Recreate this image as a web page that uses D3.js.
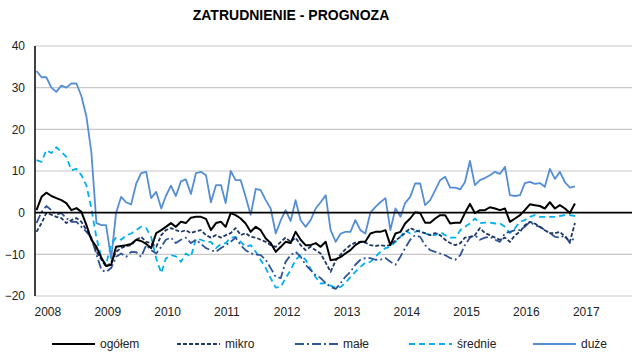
<!DOCTYPE html>
<html>
<head>
<meta charset="utf-8">
<script src="https://cdn.jsdelivr.net/npm/d3@7"></script>
<style>
  html, body { margin: 0; padding: 0; background: #fff; }
  svg { display: block; font-family: "Liberation Sans", Arial, sans-serif; }
</style>
</head>
<body>
<svg id="chart" width="637" height="356"></svg>
<script>
// Monthly survey balance, Jan 2008 – Jan 2017
const startMonth = new Date(2008, 0, 1);
const monthCount = 109;
const yearTicks = [2008, 2009, 2010, 2011, 2012, 2013, 2014, 2015, 2016, 2017];
const yTicks = [-20, -10, 0, 10, 20, 30, 40];

const ogolem = [0.6,3.8,4.8,4,3.5,3,2.3,0.6,1.1,0.2,
  -3,-6.5,-8.2,-10.9,-12.8,-12.5,-8.2,-8,-7.8,-7.5,
  -6.5,-6.8,-7.5,-8.5,-4.9,-4.2,-3.4,-2.5,-3.4,-2.2,
  -2.5,-1.2,-1,-1,-1.5,-4.2,-2.5,-2.2,-3.4,-0.1,
  -0.6,-1.4,-2.6,-4.6,-3.4,-4.2,-6.2,-7.3,-9.4,-8.2,
  -7,-7.3,-4.6,-6.5,-7.8,-7.8,-7.3,-8.2,-7,-11.4,
  -11.2,-10.6,-9.8,-9,-7.8,-7,-7,-5,-4.6,-4.6,
  -4.2,-7.8,-5,-4.6,-2.6,-1.4,0.1,-0.1,-2.4,-2.4,
  -1.4,-0.6,-0.6,-2.6,-2.4,-2.4,-0.1,2.1,-0.1,0.6,
  0.6,1.3,1,0.6,1,-2.2,-1.4,-0.6,0.6,2,
  1.8,1.6,1,2.5,1,1.8,1,-0.1,2.2];

const mikro = [-4.6,-2.5,-0.1,-0.5,-1,-1.3,-2.5,-1.8,-1.3,-2.2,
  -4.2,-6,-9.4,-11.3,-13,-12,-9.4,-8.5,-8,-7.8,
  -6.5,-5.8,-7,-7.3,-8.2,-5.4,-4.2,-3.7,-4.2,-4.6,
  -4.2,-4.9,-4.5,-4.2,-5.4,-6,-5.4,-6,-5.4,-4.9,
  -3.7,-5.4,-4.9,-5.8,-6,-6.5,-7,-7.8,-8.2,-7,
  -6,-7,-6,-7.8,-9,-8.2,-9,-9.8,-12,-14.2,
  -11.5,-10,-8.8,-7.8,-7.2,-7,-7.2,-7.8,-8,-7.8,
  -8,-7.8,-6.7,-5.8,-4.9,-3.7,-4.2,-4.6,-4.9,-5.4,
  -4.9,-5.4,-6.5,-7.3,-7.8,-7.3,-6,-5.8,-5.4,-3.7,
  -4.9,-5.4,-6,-6.5,-6,-7,-5.4,-4.6,-3,-2.2,
  -2.6,-3.4,-4.2,-4.9,-4.9,-4.6,-5.8,-7,-2.5];

const male = [-2.5,0.2,1.6,0.6,-0.5,-0.1,-1.3,-2.2,-2.2,-3.4,
  -4.6,-6,-10,-13.8,-14.2,-13.3,-10.6,-9.8,-10.6,-9.4,
  -9.5,-10.6,-7.8,-9,-9.8,-8.2,-6.5,-6,-7.3,-6.5,
  -6,-7.3,-6.5,-7.5,-8.5,-9,-9.4,-8.5,-7.8,-7,
  -6,-7.8,-9,-9.8,-10,-10.2,-11.3,-13.3,-15.4,-15.7,
  -11.8,-10.2,-9.4,-10.6,-12.5,-13.8,-15,-15.7,-16.9,-17.8,
  -18.3,-16.9,-15.4,-14.2,-12.5,-11.3,-10.9,-10.9,-11.3,-11.3,
  -10.9,-11.8,-12.5,-10.5,-8.5,-6.5,-5.4,-5.8,-7.8,-9,
  -9.4,-9.8,-10.2,-10.9,-11.3,-10.2,-7.8,-6,-5.4,-6.5,
  -6,-5.8,-6.5,-7,-4.9,-4.6,-4.2,-4.2,-3.4,-2.2,
  -3,-3.4,-4.2,-4.9,-5.8,-6,-5.4,-7.3,-5.8];

const srednie = [12.6,12.2,15,14.3,15.7,14.6,13.4,10.2,10.5,9,
  6.5,1,-6,-11,-12.5,-7.5,-6,-6.5,-5.5,-5,
  -4.2,-3.4,-3.7,-5.8,-11,-14.5,-11,-10.2,-10.5,-11.8,
  -9.8,-10.6,-6.2,-6.5,-7,-7,-8.5,-7.5,-7.3,-6,
  -5.8,-7,-8.2,-7.8,-9.4,-11.4,-13.3,-15.7,-18,-17.8,
  -15.7,-13.8,-11.3,-10.2,-11.3,-13.5,-15.5,-17,-16.9,-17.5,
  -18,-17.8,-16.9,-15.4,-14.2,-13,-12,-11.8,-10.6,-9.4,
  -8.5,-8.2,-7,-5.8,-4.2,-5,-4.6,-4.2,-5,-5.4,
  -5.4,-4.6,-5.4,-6,-6,-4.2,-3.4,-2.6,-1.4,-2.5,
  -2.4,-2.4,-2.6,-2.6,-3.4,-4.9,-3.7,-2.2,-1.8,-1,
  -0.6,-1,-1,-1,-1,-0.8,-0.6,-0.6,-0.8];

const duze = [34,32.5,32.5,30,29,30.5,30,31,31,28,
  23,14.5,-2.5,-3,-3,-11,0,3.8,2.5,2,
  7,9.5,9.8,3.5,5,1,4,6.5,4,7.5,
  8,4.5,9.5,9.8,9,2.5,6.6,6.6,2.3,10,
  7.8,7.8,3.8,-0.5,5.7,5.4,3,1,-5,-1.8,
  0.6,-2,3,-1.8,-3.4,-1.8,1,2.5,4.2,-4.2,
  -7,-5,-4.6,-4.6,-1.8,-4.2,-5,0,1.4,2.5,
  3.5,-4.2,1,-1,2.3,3.8,7,7,1.8,3,
  5.4,7.8,8.6,6,6,5.6,7.3,12.4,6.6,7.8,
  8.3,9,9.8,9.3,11,4.2,4,4.2,7.1,7.4,
  6.9,7.1,6.2,10.5,8.1,9.8,7.3,6,6.3];

const seriesNames = ["ogółem", "mikro", "małe", "średnie", "duże"];
const seriesValues = [ogolem, mikro, male, srednie, duze];
const seriesColors = ["#000000", "#203864", "#2F5597", "#00B0F0", "#558ED5"];
const seriesDash = [null, "4,2", "9,3,2,3", "6,4", null];
const seriesWidth = [2, 1.8, 1.8, 1.8, 1.8];

const months = d3.timeMonth.range(startMonth, d3.timeMonth.offset(startMonth, monthCount));

const svg = d3.select("#chart");
const plotLeft = 35, plotRight = 632, plotTop = 46, plotBottom = 296;

const x = d3.scaleTime()
  .domain([new Date(2008, 0, 1), new Date(2018, 0, 1)])
  .range([36.5, 634.7]);
const y = d3.scaleLinear().domain([-20, 40]).range([plotBottom, plotTop]);

// title
svg.append("text")
  .attr("x", 291).attr("y", 20)
  .attr("text-anchor", "middle")
  .attr("font-size", 14).attr("font-weight", "bold")
  .attr("fill", "#000")
  .text("ZATRUDNIENIE - PROGNOZA");

// horizontal gridlines
svg.append("g")
  .selectAll("line")
  .data(yTicks.filter(v => v !== 0))
  .join("line")
  .attr("x1", plotLeft).attr("x2", plotRight)
  .attr("y1", d => y(d)).attr("y2", d => y(d))
  .attr("stroke", "#C8C8C8").attr("stroke-width", 1.2);

// y axis labels
const yAxis = d3.axisLeft(y).tickValues(yTicks).tickSize(0).tickPadding(10).tickFormat(d3.format("d"));
const gy = svg.append("g").attr("transform", `translate(${plotLeft},0)`).call(yAxis);
gy.select(".domain").remove();
gy.selectAll("text").attr("font-size", 12).attr("fill", "#222")
  .attr("font-family", "'Liberation Sans', Arial, sans-serif");

// x axis year labels (left-aligned at January)
const xAxis = d3.axisBottom(x)
  .tickValues(yearTicks.map(yr => new Date(yr, 0, 1)))
  .tickSize(0).tickPadding(0)
  .tickFormat(d3.timeFormat("%Y"));
const gx = svg.append("g").attr("transform", `translate(0,${plotBottom + 11})`).call(xAxis);
gx.select(".domain").remove();
gx.selectAll("text")
  .attr("text-anchor", "start")
  .attr("dx", -2.5)
  .attr("font-size", 12).attr("fill", "#222")
  .attr("font-family", "'Liberation Sans', Arial, sans-serif");

// series lines
const line = d3.line()
  .x((d, i) => x(months[i]))
  .y(d => y(d));

svg.append("g")
  .selectAll("path")
  .data(seriesValues.map((v, k) => ({ k, v })).reverse())
  .join("path")
  .attr("d", d => line(d.v))
  .attr("fill", "none")
  .attr("stroke", d => seriesColors[d.k])
  .attr("stroke-width", d => seriesWidth[d.k])
  .attr("stroke-dasharray", d => seriesDash[d.k])
  .attr("stroke-linejoin", "round");

// zero line and vertical axis
svg.append("line")
  .attr("x1", plotLeft).attr("x2", plotRight)
  .attr("y1", y(0)).attr("y2", y(0))
  .attr("stroke", "#000").attr("stroke-width", 1.8);
svg.append("line")
  .attr("x1", plotLeft).attr("x2", plotLeft)
  .attr("y1", plotTop).attr("y2", plotBottom)
  .attr("stroke", "#000").attr("stroke-width", 1.5);

// legend
const legendX = [52, 177, 295, 409, 533];
const legend = svg.append("g").selectAll("g")
  .data(seriesNames.map((n, k) => ({ n, k })))
  .join("g")
  .attr("transform", d => `translate(${legendX[d.k]},344)`);
legend.append("line")
  .attr("x1", 0).attr("x2", 43)
  .attr("stroke", d => seriesColors[d.k])
  .attr("stroke-width", d => seriesWidth[d.k])
  .attr("stroke-dasharray", d => seriesDash[d.k]);
legend.append("text")
  .attr("x", 48).attr("y", 4)
  .attr("font-size", 12).attr("fill", "#222")
  .text(d => d.n);
</script>
</body>
</html>
